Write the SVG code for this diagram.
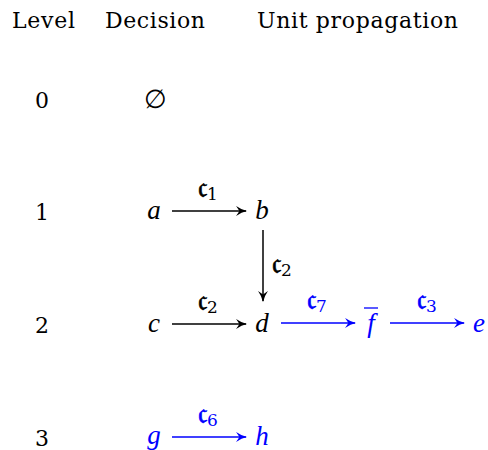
<svg xmlns="http://www.w3.org/2000/svg" width="488" height="450" viewBox="0 0 488 450">
<defs>
<marker id="ak" viewBox="0 0 10 10" refX="9" refY="5" markerWidth="11" markerHeight="11" markerUnits="userSpaceOnUse" orient="auto"><path d="M0,0.5 Q5,4 10,5 Q5,6 0,9.5 L3,5 Z" fill="#000"/></marker>
<marker id="ab" viewBox="0 0 10 10" refX="9" refY="5" markerWidth="11" markerHeight="11" markerUnits="userSpaceOnUse" orient="auto"><path d="M0,0.5 Q5,4 10,5 Q5,6 0,9.5 L3,5 Z" fill="#0000ff"/></marker>
</defs>
<style>
text{font-family:"DejaVu Serif","Liberation Serif",serif;font-size:22px;fill:#000}
.v{font-family:"Liberation Serif",serif;font-style:italic;font-size:27px}
.b{fill:#0000ff}
.lab{font-family:"DejaVu Serif","Liberation Serif",serif;font-size:30px;text-anchor:middle;stroke:#000;stroke-width:0.7}
.lab.b{stroke:#0000ff}
.sub{font-size:17px;stroke-width:0}
.k{stroke:#000;stroke-width:1.5;fill:none;marker-end:url(#ak)}
.bl{stroke:#0000ff;stroke-width:1.5;fill:none;marker-end:url(#ab)}
</style>
<rect width="488" height="450" fill="#fff"/>
<g id="headers">
<text x="12" y="28" textLength="63">Level</text>
<text x="105" y="28" textLength="100">Decision</text>
<text x="257" y="28" textLength="201">Unit propagation</text>
</g>
<g id="levels" text-anchor="middle">
<text x="42" y="108">0</text>
<text x="42" y="220">1</text>
<text x="42" y="333">2</text>
<text x="42" y="446">3</text>
</g>
<g id="empty"><text x="155" y="108" text-anchor="middle" style="font-size:26px">∅</text></g>
<g id="a"><text class="v" x="154" y="219" text-anchor="middle">a</text></g>
<g id="b"><text class="v" x="262" y="219" text-anchor="middle">b</text></g>
<g id="c"><text class="v" x="154" y="332" text-anchor="middle">c</text></g>
<g id="d"><text class="v" x="262" y="332" text-anchor="middle">d</text></g>
<g id="fbar"><text class="v b" x="371" y="332" text-anchor="middle">f</text><line x1="364" y1="308" x2="378" y2="308" stroke="#0000ff" stroke-width="1.3"/></g>
<g id="e"><text class="v b" x="479" y="332" text-anchor="middle">e</text></g>
<g id="g"><text class="v b" x="154" y="444" text-anchor="middle">g</text></g>
<g id="h"><text class="v b" x="262" y="445" text-anchor="middle">h</text></g>
<g id="connectors">
<line class="k" x1="172" y1="211" x2="246" y2="211"/>
<line class="k" x1="263" y1="230" x2="263" y2="301"/>
<line class="k" x1="172" y1="324" x2="246" y2="324"/>
<line class="bl" x1="281" y1="323" x2="355" y2="323"/>
<line class="bl" x1="390" y1="323" x2="464" y2="323"/>
<line class="bl" x1="172" y1="437" x2="246" y2="437"/>
<text class="lab" x="208" y="197">𝔠<tspan class="sub" dy="3">1</tspan></text>
<text class="lab" x="282" y="273">𝔠<tspan class="sub" dy="3">2</tspan></text>
<text class="lab" x="208" y="310">𝔠<tspan class="sub" dy="3">2</tspan></text>
<text class="lab b" x="317" y="309">𝔠<tspan class="sub" dy="3">7</tspan></text>
<text class="lab b" x="427" y="309">𝔠<tspan class="sub" dy="3">3</tspan></text>
<text class="lab b" x="208" y="423">𝔠<tspan class="sub" dy="3">6</tspan></text>
</g>
</svg>
